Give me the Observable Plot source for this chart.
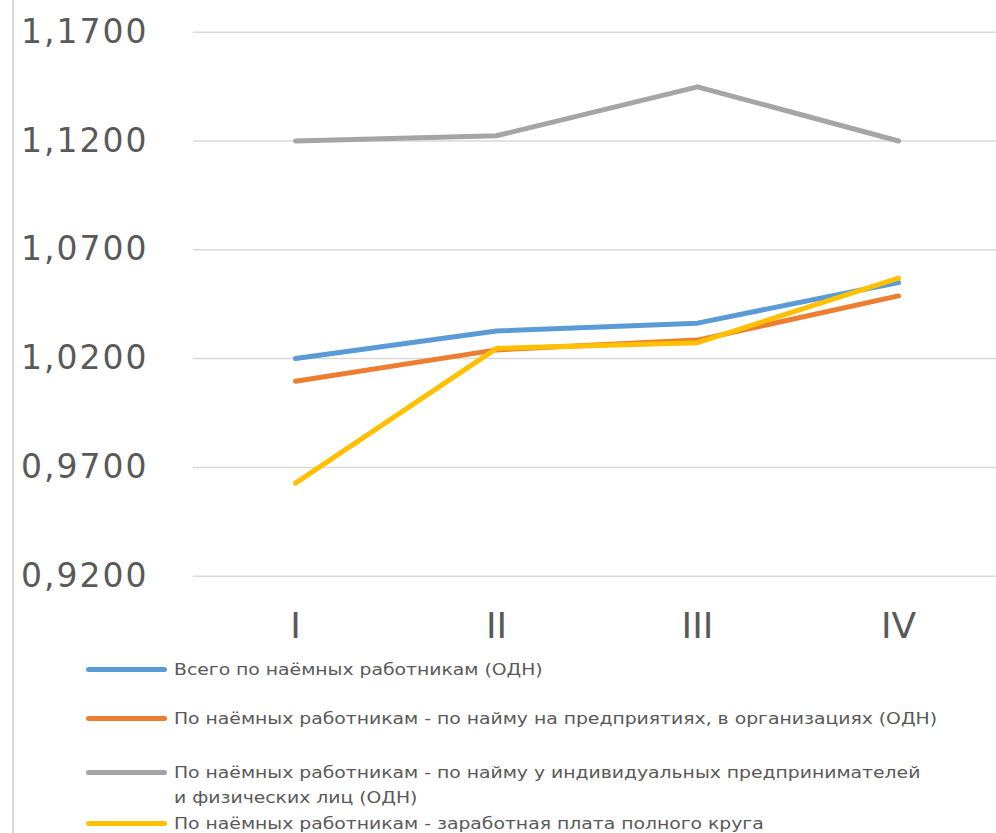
<!DOCTYPE html>
<html>
<head>
<meta charset="utf-8">
<script src="https://cdn.jsdelivr.net/npm/d3@7"></script>
<script src="https://cdn.jsdelivr.net/npm/@observablehq/plot@0.6"></script>
<style>
  html, body { margin: 0; padding: 0; background: #fff; }
  body { width: 996px; height: 833px; position: relative; overflow: hidden; font-family: "DejaVu Sans", sans-serif; }
  #vline { position: absolute; left: 12px; top: 0; width: 2px; height: 833px; background: #d9d9d9; }
  #chart { position: absolute; left: 0; top: 0; }
  #legend { position: absolute; left: 0; top: 650px; width: 996px; }
  .row { position: relative; display: flex; align-items: flex-start; }
  .sw { position: absolute; left: 86px; width: 81px; height: 5px; border-radius: 3px; top: 10px; }
  .lbl { position: absolute; left: 174px; font-size: 16px; line-height: 25px; color: #595959; white-space: pre; display: inline-block; transform-origin: 0 50%; }
  g[aria-label="y-axis tick label"] text { letter-spacing: 2px; }
</style>
</head>
<body>
<div id="vline"></div>
<div id="chart"></div>
<div id="legend"></div>
<script>
const quarters = ["I", "II", "III", "IV"];
const yTicks = [0.92, 0.97, 1.02, 1.07, 1.12, 1.17];
const seriesNames = [
  "Всего по наёмных работникам (ОДН)",
  "По наёмных работникам - по найму на предприятиях, в организациях (ОДН)",
  "По наёмных работникам - по найму у индивидуальных предпринимателей\nи физических лиц (ОДН)",
  "По наёмных работникам - заработная плата полного круга"
];
const seriesColors = ["#5B9BD5", "#ED7D31", "#A5A5A5", "#FFC000"];
const totalValues = [1.0200, 1.0327, 1.0363, 1.0550];
const enterpriseValues = [1.0096, 1.0240, 1.0285, 1.0488];
const individualValues = [1.1200, 1.1224, 1.1449, 1.1200];
const fullWageValues = [0.9628, 1.0247, 1.0273, 1.0570];

const seriesValues = [totalValues, enterpriseValues, individualValues, fullWageValues];
const data = [];
seriesValues.forEach((vals, i) => {
  vals.forEach((v, j) => data.push({series: seriesNames[i], q: quarters[j], v}));
});

const fmt = d => d.toFixed(4).replace(".", ",");

const chart = Plot.plot({
  width: 996,
  height: 650,
  marginLeft: 193,
  marginRight: 0,
  marginTop: 31.7,
  marginBottom: 74.3,
  style: {fontFamily: "DejaVu Sans", color: "#595959", background: "transparent", overflow: "visible"},
  x: {type: "point", domain: quarters, range: [294, 899], padding: 0, label: null},
  y: {domain: [0.92, 1.17], label: null},
  color: {domain: seriesNames, range: seriesColors},
  marks: [
    Plot.ruleY(yTicks, {stroke: "#d9d9d9", strokeWidth: 1.5}),
    Plot.axisY({ticks: yTicks, tickSize: 0, tickPadding: 45, tickFormat: fmt, fontSize: 33, fill: "#595959", label: null}),
    Plot.axisX({tickSize: 0, tickPadding: 36, fontSize: 36, fill: "#595959", label: null}),
    Plot.line(data, {x: "q", y: "v", z: "series", stroke: "series", strokeWidth: 5, strokeLinecap: "round", strokeLinejoin: "round", curve: "linear"})
  ]
});
document.getElementById("chart").appendChild(chart);

const legend = document.getElementById("legend");
const rowTops = [6.5, 55.5, 109.5, 160.5];
const spans = [];
seriesNames.forEach((name, i) => {
  const row = document.createElement("div");
  row.className = "row";
  row.style.position = "absolute";
  row.style.top = rowTops[i] + "px";
  row.style.left = "0";
  const sw = document.createElement("div");
  sw.className = "sw";
  sw.style.background = seriesColors[i];
  const lbl = document.createElement("span");
  lbl.className = "lbl";
  lbl.textContent = name;
  row.appendChild(sw);
  row.appendChild(lbl);
  legend.appendChild(row);
  spans.push(lbl);
});
const w = spans[1].getBoundingClientRect().width;
const k = 763 / w;
spans.forEach(s => s.style.transform = `scaleX(${k})`);
</script>
</body>
</html>
